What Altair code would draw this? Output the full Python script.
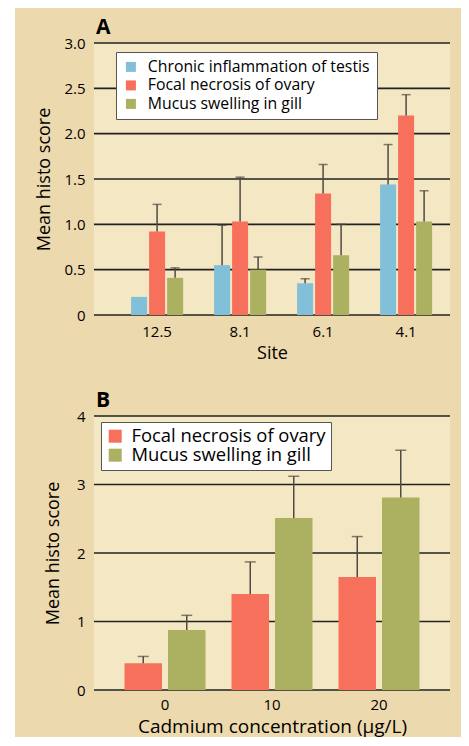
import altair as alt
import pandas as pd

# ---------------- data ----------------
sites = ["12.5", "8.1", "6.1", "4.1"]
series_a = ["Chronic inflammation of testis", "Focal necrosis of ovary", "Mucus swelling in gill"]
testis_mean = [0.20, 0.55, 0.35, 1.44]
testis_upper = [None, 0.99, 0.40, 1.88]
ovary_mean_a = [0.92, 1.03, 1.34, 2.20]
ovary_upper_a = [1.22, 1.52, 1.66, 2.43]
gill_mean_a = [0.41, 0.50, 0.66, 1.03]
gill_upper_a = [0.52, 0.64, 1.00, 1.37]
ticks_a = [0, 0.5, 1.0, 1.5, 2.0, 2.5, 3.0]

conc = ["0", "10", "20"]
series_b = ["Focal necrosis of ovary", "Mucus swelling in gill"]
ovary_mean_b = [0.39, 1.40, 1.65]
ovary_upper_b = [0.49, 1.87, 2.24]
gill_mean_b = [0.875, 2.51, 2.81]
gill_upper_b = [1.09, 3.12, 3.50]
ticks_b = [0, 1, 2, 3, 4]

BLUE, RED, GREEN = "#82C0DA", "#F7705B", "#ABB161"
TAN, INNER = "#EDD9AE", "#F4E7C3"
GRID, ERR = "#222222", "#4f4a42"


def frame(cats, names, means, uppers):
    rows = []
    for name, m, u in zip(names, means, uppers):
        for c, mv, uv in zip(cats, m, u):
            rows.append({"cat": c, "series": name, "mean": mv, "upper": uv})
    return pd.DataFrame(rows)


df_a = frame(sites, series_a, [testis_mean, ovary_mean_a, gill_mean_a],
             [testis_upper, ovary_upper_a, gill_upper_a])
df_b = frame(conc, series_b, [ovary_mean_b, gill_mean_b], [ovary_upper_b, gill_upper_b])


def panel(df, cats, series, colors, ticks, ymax, letter, xtitle, xtitle_size, xtitle_pad, w, h,
          xpad, xalign, offpad_in, offpad_out, legend, tan_box, cap, ytitle_pad, xlabel_pad, fmt):
    x_enc = alt.X("cat:N", sort=cats,
                  scale=alt.Scale(paddingInner=0, paddingOuter=xpad, align=xalign),
                  axis=alt.Axis(title=xtitle, labelAngle=0, domain=False, ticks=False,
                                labelPadding=xlabel_pad, labelFontSize=15,
                                titleFontSize=xtitle_size, titlePadding=xtitle_pad, zindex=1))
    xo_enc = alt.XOffset("series:N", sort=series,
                         scale=alt.Scale(paddingInner=offpad_in, paddingOuter=offpad_out))
    y_axis = alt.Axis(values=ticks, grid=False, domain=False, ticks=False, labelPadding=9,
                      labelFontSize=15, title="Mean histo score", titleFontSize=18,
                      titlePadding=ytitle_pad, labelExpr=fmt, zindex=1)
    y_scale = alt.Scale(domain=[0, ymax], nice=False)

    tx0, tx1, ty0, ty1 = tan_box
    one = alt.Data(values=[{"k": 1}])
    tan = alt.Chart(one).mark_rect(color=TAN).encode(
        x=alt.value(tx0), x2=alt.value(tx1), y=alt.value(ty0), y2=alt.value(ty1))
    inner = alt.Chart(one).mark_rect(color=INNER).encode(
        x=alt.value(0), x2=alt.value(w), y=alt.value(0), y2=alt.value(h))
    tag = alt.Chart(one).mark_text(text=letter, fontSize=21, fontWeight="bold", align="left",
                                   baseline="middle", color="black").encode(
        x=alt.value(2), y=alt.value(-15))
    grid = alt.Chart(pd.DataFrame({"v": ticks})).mark_rule(color=GRID, strokeWidth=1.6).encode(
        y=alt.Y("v:Q", scale=y_scale, axis=y_axis))
    bars = alt.Chart(df).mark_bar().encode(
        x=x_enc, xOffset=xo_enc,
        y=alt.Y("mean:Q", scale=y_scale, axis=y_axis),
        color=alt.Color("series:N", sort=series,
                        scale=alt.Scale(domain=series, range=colors), legend=legend))
    errs = alt.Chart(df).transform_filter("isValid(datum.upper)").mark_rule(
        color=ERR, strokeWidth=1.5).encode(
        x=x_enc, xOffset=xo_enc,
        y=alt.Y("mean:Q", scale=y_scale, axis=y_axis), y2="upper:Q")
    caps = alt.Chart(df).transform_filter("isValid(datum.upper)").mark_tick(
        color=ERR, thickness=1.5, size=cap).encode(
        x=x_enc, xOffset=xo_enc,
        y=alt.Y("upper:Q", scale=y_scale, axis=y_axis))
    return alt.layer(tan, inner, tag, grid, bars, errs, caps).properties(width=w, height=h)


legend_a = alt.Legend(title=None, orient="none", legendX=22, legendY=9, direction="vertical",
                      fillColor="white", strokeColor="#555555", padding=7,
                      symbolType="square", symbolSize=100, symbolStrokeWidth=0,
                      symbolOpacity=1, labelFontSize=15.8, labelOffset=9, labelLimit=400,
                      rowPadding=1.5, labelColor="black")
legend_b = alt.Legend(title=None, orient="none", legendX=7, legendY=6, direction="vertical",
                      fillColor="white", strokeColor="#555555", padding=5,
                      symbolType="square", symbolSize=169, symbolStrokeWidth=0,
                      symbolOpacity=1, labelFontSize=18.4, labelOffset=7, labelLimit=400,
                      rowPadding=0, labelColor="black")

chart_a = panel(df_a, sites, series_a, [BLUE, RED, GREEN], ticks_a, 3, "A", "Site", 18, 5,
                356, 272, 0.1446, 0.9, 0.111, 0.86, legend_a, (-79, 367, -35, 339), 9, 10, 9,
                "datum.value == 0 ? '0' : format(datum.value, '.1f')")
chart_b = panel(df_b, conc, series_b, [RED, GREEN], ticks_b, 4, "B",
                "Cadmium concentration (µg/L)", 19, 5, 356, 274,
                0.1636, 0.5, 0.138, 0.299, legend_b, (-79, 367, -34, 321), 11, 14, 7,
                "format(datum.value, 'd')")

chart = alt.vconcat(chart_a, chart_b, spacing=0).resolve_scale(
    color="independent", x="independent", y="independent", xOffset="independent"
).resolve_legend(color="independent").properties(
    padding={"left": 7, "top": 0, "right": 0, "bottom": 0}
).configure(font="Open Sans", background="white").configure_view(stroke=None).configure_axis(
    labelColor="black", titleColor="black", titleFontWeight="normal")

chart.save("out.html", embed_options={"renderer": "svg", "actions": False})
